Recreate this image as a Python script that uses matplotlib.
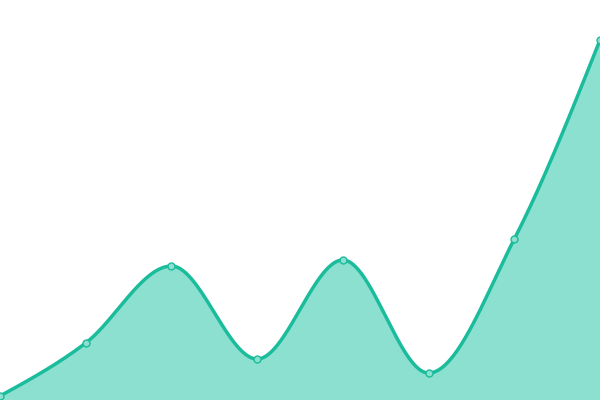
import numpy as np
import matplotlib.pyplot as plt

# values (pixel height above the bottom edge)
x_idx = [0, 1, 2, 3, 4, 5, 6, 7]
values = [4, 57, 134, 41, 140, 27, 161, 360]

line_color = '#1abc9c'
fill_color = '#8be0d0'


def monotone_curve(x, y, n=60):
    # monotone cubic (same idea as d3 curveMonotoneX)
    x = np.asarray(x, float)
    y = np.asarray(y, float)
    h = np.diff(x)
    s = np.diff(y) / h
    m = np.zeros_like(y)
    for i in range(1, len(y) - 1):
        if s[i - 1] * s[i] <= 0:
            m[i] = 0
        else:
            p = (s[i - 1] * h[i] + s[i] * h[i - 1]) / (h[i - 1] + h[i])
            m[i] = (np.sign(s[i - 1]) + np.sign(s[i])) * min(abs(s[i - 1]), abs(s[i]), 0.5 * abs(p))
    m[0] = (3 * s[0] - m[1]) / 2
    m[-1] = (3 * s[-1] - m[-2]) / 2
    xs, ys = [], []
    for i in range(len(x) - 1):
        t = np.linspace(0, 1, n)
        h00 = 2 * t**3 - 3 * t**2 + 1
        h10 = t**3 - 2 * t**2 + t
        h01 = -2 * t**3 + 3 * t**2
        h11 = t**3 - t**2
        xs.append(x[i] + t * h[i])
        ys.append(h00 * y[i] + h10 * h[i] * m[i] + h01 * y[i + 1] + h11 * h[i] * m[i + 1])
    return np.concatenate(xs), np.concatenate(ys)


cx, cy = monotone_curve(x_idx, values)

fig = plt.figure(figsize=(6, 4), dpi=100)
ax = fig.add_axes([0, 0, 1, 1])
ax.fill_between(cx, 0, cy, color=fill_color, lw=0)
ax.plot(cx, cy, color=line_color, lw=2.5, solid_capstyle='round')
ax.plot(x_idx, values, 'o', ms=5, mfc=fill_color, mec=line_color, mew=1, clip_on=False)
ax.set_xlim(0, 7)
ax.set_ylim(0, 400)
ax.axis('off')
fig.savefig('out.png')
